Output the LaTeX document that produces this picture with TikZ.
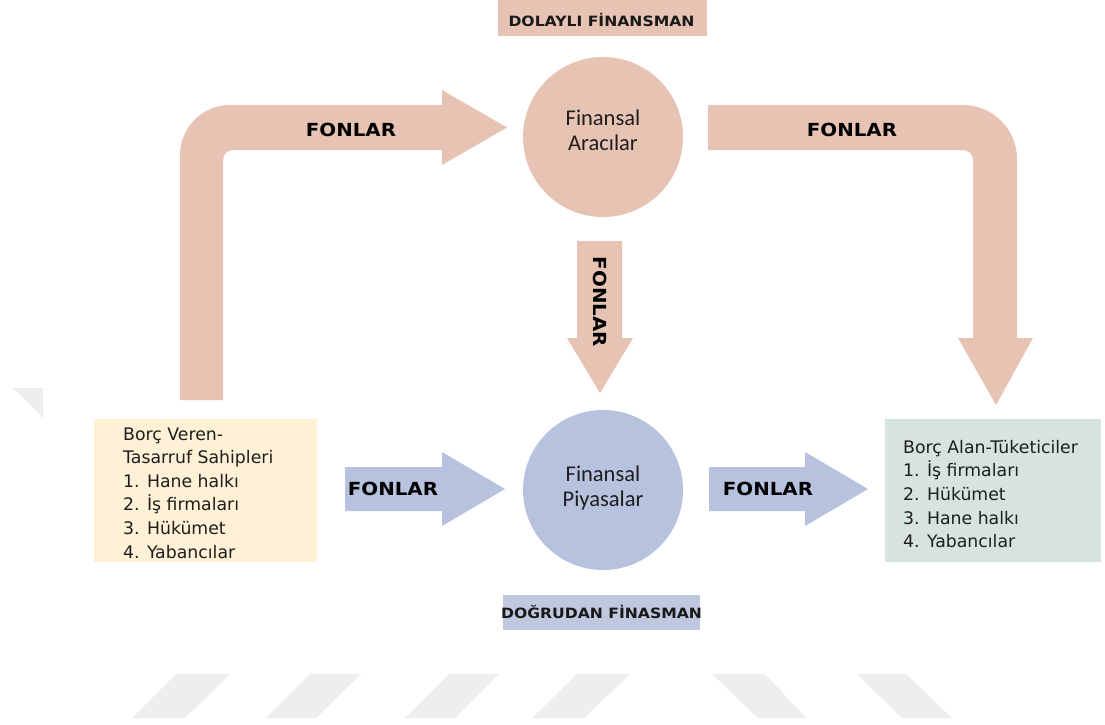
\documentclass[tikz,border=0pt]{standalone}
\usepackage{fontspec}
\setmainfont{DejaVu Sans}
\newfontfamily\lblfont[FakeStretch=1.1]{DejaVu Sans}
\newfontfamily\circfont{Carlito}
\definecolor{salmon}{HTML}{E7C3B4}
\definecolor{bluegray}{HTML}{B7C2DE}
\definecolor{bluebox}{HTML}{BFC8DF}
\definecolor{cream}{HTML}{FEF1D6}
\definecolor{mint}{HTML}{D6E4DD}
\definecolor{wm}{HTML}{EEEEEE}
\definecolor{txt}{HTML}{1E1E1E}
\tikzset{
  salmonfill/.style={fill=salmon},
  bluefill/.style={fill=bluegray},
  fonlar/.style={font=\lblfont\bfseries\fontsize{18}{20}\selectfont, text=black, inner sep=0},
  tag/.style={font=\lblfont\bfseries\fontsize{14.2}{16}\selectfont, text=black!90, inner sep=0},
  boxtext/.style={font=\fontsize{17.3}{23.6}\selectfont, text=txt, align=left, inner sep=0, anchor=west},
  circtext/.style={font=\circfont\fontsize{22.5}{25}\selectfont, text=txt, align=center, inner sep=0},
  circ/.style={circle, minimum size=160, inner sep=0}
}
\begin{document}
\begin{tikzpicture}[x=1pt,y=-1pt]
\useasboundingbox (0,0) rectangle (1105,724);
\fill[white] (0,0) rectangle (1105,724);

% watermark
\fill[wm] (13,388) -- (43,388) -- (43,418) -- cycle;
\fill[wm] (176,674) -- (230,674) -- (185,718) -- (132,718) -- cycle;
\fill[wm] (310,674) -- (361,674) -- (316,718) -- (266,718) -- cycle;
\fill[wm] (449,674) -- (499,674) -- (455,718) -- (405,718) -- cycle;
\fill[wm] (577,674) -- (630,674) -- (584,718) -- (532,718) -- cycle;
\fill[wm] (712,674) -- (765,674) -- (806,718) -- (758,718) -- cycle;
\fill[wm] (857,674) -- (906,674) -- (952,718) -- (902,718) -- cycle;

% top label boxes
\fill[salmon] (498,0) rectangle (707,36);
\node[tag] (dolayli) at (601.5,20) {DOLAYLI FİNANSMAN};
\fill[bluebox] (503,595) rectangle (700,630);
\node[tag] (dogrudan) at (601.5,612) {DOĞRUDAN FİNASMAN};

% circles
\node[circ, fill=salmon] (aracilar) at (603,137) {};
\node[circtext] (aracilart) at (603,130) {Finansal\\Aracılar};
\node[circ, fill=bluegray] (piyasalar) at (603,490) {};
\node[circtext] (piyasalart) at (603,488) {Finansal\\Piyasalar};

% side boxes
\fill[cream] (94,419) rectangle (317,562);
\node[boxtext] (veren) at (123,493) {Borç Veren-\\Tasarruf Sahipleri\\1. Hane halkı\\2. İş firmaları\\3. Hükümet\\4. Yabancılar};
\fill[mint] (885,419) rectangle (1101,562);
\node[boxtext] (alan) at (903,494) {Borç Alan-Tüketiciler\\1. İş firmaları\\2. Hükümet\\3. Hane halkı\\4. Yabancılar};

% bent arrow top-left
\fill[salmon] (180,400) -- (180,155) .. controls (180,127.4) and (202.4,105) .. (230,105)
  -- (442,105) -- (442,90) -- (507,127.5) -- (442,165) -- (442,150) -- (233,150)
  .. controls (227.5,150) and (223,154.5) .. (223,160) -- (223,400) -- cycle;
\node[fonlar] (f1) at (351,130) {FONLAR};

% bent arrow top-right
\fill[salmon] (708,105) -- (963,105) .. controls (992.8,105) and (1017,129.2) .. (1017,159)
  -- (1017,338) -- (1033,338) -- (996,405) -- (958,338) -- (973,338) -- (973,160)
  .. controls (973,154.5) and (968.5,150) .. (963,150) -- (708,150) -- cycle;
\node[fonlar] (f2) at (852,130) {FONLAR};

% vertical arrow
\fill[salmon] (577,241) -- (622,241) -- (622,338) -- (633,338) -- (600,393) -- (567,338) -- (577,338) -- cycle;
\node[fonlar, rotate=-90] (f3) at (600,302) {FONLAR};

% blue arrows
\fill[bluegray] (345,467) -- (442,467) -- (442,452) -- (505,489) -- (442,526) -- (442,511) -- (345,511) -- cycle;
\node[fonlar] (f4) at (393,489) {FONLAR};
\fill[bluegray] (709,467) -- (805,467) -- (805,452) -- (868,489) -- (805,526) -- (805,511) -- (709,511) -- cycle;
\node[fonlar] (f5) at (768,489) {FONLAR};
\end{tikzpicture}
\end{document}
